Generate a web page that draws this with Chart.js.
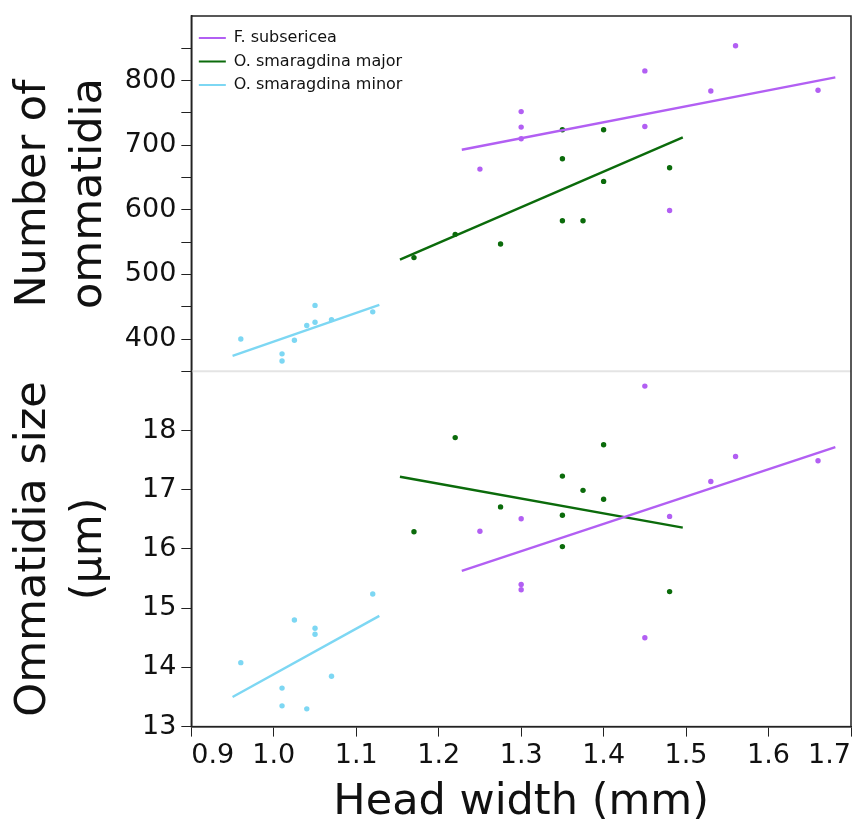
<!DOCTYPE html>
<html>
<head>
<meta charset="utf-8">
<script src="https://cdn.jsdelivr.net/npm/chart.js@4"></script>
<style>
  html, body { margin: 0; padding: 0; background: #fff; overflow: hidden; }
  #wrap { width: 865px; height: 824px; }
</style>
</head>
<body>
<div id="wrap"><canvas id="chart"></canvas></div>
<script>
// --- data ---
const seriesNames = ['F. subsericea', 'O. smaragdina major', 'O. smaragdina minor'];

// F. subsericea
const fsubX     = [1.25, 1.30, 1.30, 1.30, 1.45, 1.45, 1.48, 1.53, 1.56, 1.66];
const fsubCount = [663, 752, 728, 710, 815, 729, 599, 784, 854, 785];
const fsubSize  = [16.30, 16.51, 15.40, 15.31, 18.75, 14.50, 16.55, 17.14, 17.56, 17.49];
const fsubFitX     = [1.228, 1.681];
const fsubFitCount = [693, 805];
const fsubFitSize  = [15.63, 17.72];

// O. smaragdina major
const majX     = [1.17, 1.22, 1.275, 1.35, 1.35, 1.35, 1.375, 1.40, 1.40, 1.48];
const majCount = [526, 562, 547, 724, 679, 583, 583, 724, 644, 665];
const majSize  = [16.29, 17.88, 16.71, 17.23, 16.57, 16.04, 16.99, 17.76, 16.84, 15.28];
const majFitX     = [1.153, 1.496];
const majFitCount = [523, 712];
const majFitSize  = [17.22, 16.36];

// O. smaragdina minor
const minX     = [0.96, 1.01, 1.01, 1.025, 1.04, 1.05, 1.05, 1.07, 1.12];
const minCount = [400, 377, 366, 398, 421, 452, 426, 430, 442];
const minSize  = [14.08, 13.65, 13.35, 14.80, 13.30, 14.66, 14.56, 13.85, 15.24];
const minFitX     = [0.95, 1.128];
const minFitCount = [374, 453];
const minFitSize  = [13.50, 14.87];

const countLabels = [400, 500, 600, 700, 800];
const sizeLabels  = [13, 14, 15, 16, 17, 18];

const colors = ['#b25ff3', '#0b6b0b', '#7dd7f3'];
const FONT = 'DejaVu Sans';

// --- helpers ---
const pts = (xs, ys) => xs.map((x, i) => ({ x: x, y: ys[i] }));

function dots(xs, ys, color, axis) {
    return {
        data: pts(xs, ys), yAxisID: axis, showLine: false,
        pointRadius: 2.7, pointBackgroundColor: color, pointBorderWidth: 0,
        backgroundColor: color, borderColor: color
    };
}

function fit(xs, ys, color, axis, label) {
    return {
        label: label, data: pts(xs, ys), yAxisID: axis, showLine: true,
        pointRadius: 0, borderColor: color, backgroundColor: color,
        borderWidth: 2.4, fill: false, legendItem: !!label
    };
}

const datasets = [
    fit(fsubFitX, fsubFitCount, colors[0], 'yTop', seriesNames[0]),
    fit(majFitX, majFitCount, colors[1], 'yTop', seriesNames[1]),
    fit(minFitX, minFitCount, colors[2], 'yTop', seriesNames[2]),
    fit(fsubFitX, fsubFitSize, colors[0], 'yBot'),
    fit(majFitX, majFitSize, colors[1], 'yBot'),
    fit(minFitX, minFitSize, colors[2], 'yBot'),
    dots(fsubX, fsubCount, colors[0], 'yTop'),
    dots(majX, majCount, colors[1], 'yTop'),
    dots(minX, minCount, colors[2], 'yTop'),
    dots(fsubX, fsubSize, colors[0], 'yBot'),
    dots(majX, majSize, colors[1], 'yBot'),
    dots(minX, minSize, colors[2], 'yBot')
];

// frame around the plot and the light separator between the panels
const framePlugin = {
    id: 'frame',
    afterDatasetsDraw(chart) {
        const { ctx, chartArea } = chart;
        const sep = chart.scales.yTop.bottom;
        ctx.save();
        ctx.strokeStyle = '#e4e4e4';
        ctx.lineWidth = 2;
        ctx.beginPath();
        ctx.moveTo(chartArea.left + 1, sep);
        ctx.lineTo(chartArea.right, sep);
        ctx.stroke();
        ctx.strokeStyle = '#222';
        ctx.lineWidth = 1.5;
        ctx.strokeRect(chartArea.left, chartArea.top, chartArea.right - chartArea.left, chartArea.bottom - chartArea.top);
        ctx.restore();
    }
};

const tickFont = { family: FONT, size: 27 };

function yAxis(min, max, step, labels, title) {
    return {
        type: 'linear', position: 'left', stack: 'panels', stackWeight: 1,
        min: min, max: max,
        // the frame starts right at the top edge, no room kept for half a label
        afterFit: scale => { scale.paddingTop = 0; scale.paddingBottom = 0; },
        ticks: {
            stepSize: step, autoSkip: false, color: '#111', font: tickFont, padding: 5,
            callback: v => v === max ? null : (labels.includes(v) ? String(v) : '')
        },
        grid: { drawOnChartArea: false, tickLength: 10, color: '#222' },
        border: { color: '#222', width: 1.5 },
        title: {
            display: true, text: title, color: '#111',
            font: { family: FONT, size: 43, lineHeight: 1.3 }, padding: { top: 0, bottom: 2 }
        }
    };
}

new Chart(document.getElementById('chart'), {
    type: 'scatter',
    data: { datasets: datasets },
    plugins: [framePlugin],
    options: {
        responsive: true,
        maintainAspectRatio: false,
        animation: false,
        layout: { padding: { left: 6, right: 14, top: 16, bottom: 0 } },
        plugins: {
            tooltip: { enabled: false },
            legend: {
                position: 'chartArea',
                align: 'start',
                // empty title only pushes the rows down inside the frame
                title: { display: true, text: ' ', font: { size: 12 }, padding: { top: 0, bottom: 8 } },
                labels: {
                    font: { family: FONT, size: 16 },
                    color: '#111',
                    usePointStyle: true,
                    pointStyle: 'line',
                    pointStyleWidth: 27,
                    padding: 7.5,
                    filter: (item, data) => data.datasets[item.datasetIndex].legendItem,
                    generateLabels(chart) {
                        return chart.data.datasets.map((ds, i) => ({
                            text: ds.label || '', datasetIndex: i, fontColor: '#111',
                            strokeStyle: ds.borderColor, fillStyle: ds.borderColor,
                            lineWidth: 2, pointStyle: 'line', hidden: false
                        }));
                    }
                }
            }
        },
        scales: {
            // bottom panel first: stacked axes are laid out bottom-up
            yBot: yAxis(13, 19, 1, sizeLabels, ['Ommatidia size', '(µm)']),
            yTop: yAxis(350, 900, 50, countLabels, ['Number of', 'ommatidia']),
            x: {
                type: 'linear', min: 0.9, max: 1.7,
                ticks: {
                    stepSize: 0.1, autoSkip: false, align: 'inner', color: '#111', font: tickFont, padding: 3,
                    callback: v => v.toFixed(1)
                },
                grid: { drawOnChartArea: false, tickLength: 10, color: '#222' },
                border: { color: '#222', width: 1.5 },
                title: {
                    display: true, text: 'Head width (mm)', color: '#111',
                    font: { family: FONT, size: 43, lineHeight: 1.0 }, padding: { top: 6, bottom: 0 }
                }
            }
        }
    }
});
</script>
</body>
</html>
